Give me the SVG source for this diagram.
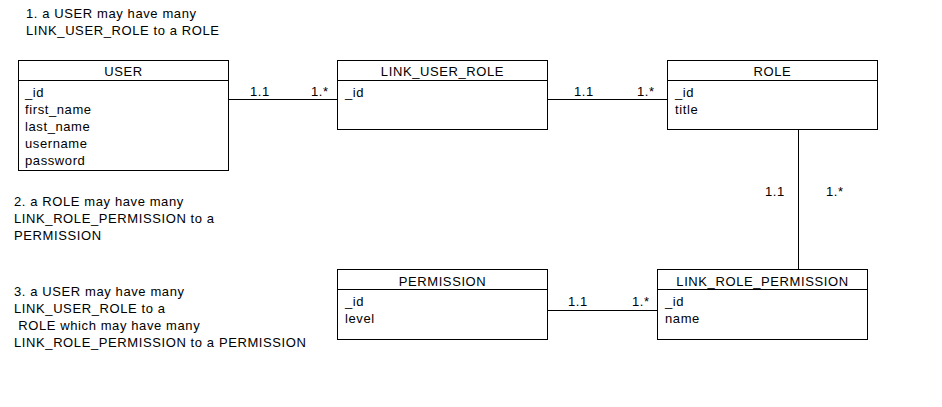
<svg xmlns="http://www.w3.org/2000/svg" width="942" height="407" viewBox="0 0 942 407">
<style>
text{font-family:"Liberation Sans",Arial,sans-serif;font-size:13px;letter-spacing:0.6px;fill:#000}
.t{text-anchor:middle}
.box{fill:#fff;stroke:#000;stroke-width:1}
.div{stroke:#000;stroke-width:1}
.conn{stroke:#000;stroke-width:1;fill:none}
</style>
<rect width="942" height="407" fill="#fff"/>
<g id="notes">
<text x="26" y="18">1. a USER may have many</text>
<text x="26" y="35">LINK_USER_ROLE to a ROLE</text>
<text x="14" y="206">2. a ROLE may have many</text>
<text x="14" y="223">LINK_ROLE_PERMISSION to a</text>
<text x="14" y="240">PERMISSION</text>
<text x="14" y="296">3. a USER may have many</text>
<text x="14" y="313">LINK_USER_ROLE to a</text>
<text x="14" y="330" xml:space="preserve"> ROLE which may have many</text>
<text x="14" y="347">LINK_ROLE_PERMISSION to a PERMISSION</text>
</g>
<g id="connectors">
<line class="conn" x1="228.5" y1="99.5" x2="337.5" y2="99.5"/>
<line class="conn" x1="547.5" y1="99.5" x2="667.5" y2="99.5"/>
<line class="conn" x1="798.5" y1="129.5" x2="798.5" y2="269.5"/>
<line class="conn" x1="547.5" y1="310.5" x2="657.5" y2="310.5"/>
<text x="250" y="96">1.1</text>
<text x="311" y="96">1.*</text>
<text x="574" y="96">1.1</text>
<text x="637" y="96">1.*</text>
<text x="765" y="196">1.1</text>
<text x="826" y="196">1.*</text>
<text x="568" y="306">1.1</text>
<text x="632" y="306">1.*</text>
</g>
<g id="user">
<rect class="box" x="18.5" y="60.5" width="210" height="110"/>
<line class="div" x1="18.5" y1="80.5" x2="228.5" y2="80.5"/>
<text class="t" x="123.5" y="76">USER</text>
<text x="25" y="97">_id</text>
<text x="25" y="114">first_name</text>
<text x="25" y="131">last_name</text>
<text x="25" y="148">username</text>
<text x="25" y="165">password</text>
</g>
<g id="link_user_role">
<rect class="box" x="337.5" y="60.5" width="210" height="69"/>
<line class="div" x1="337.5" y1="80.5" x2="547.5" y2="80.5"/>
<text class="t" x="442.5" y="76">LINK_USER_ROLE</text>
<text x="345" y="97">_id</text>
</g>
<g id="role">
<rect class="box" x="667.5" y="60.5" width="210" height="69"/>
<line class="div" x1="667.5" y1="80.5" x2="877.5" y2="80.5"/>
<text class="t" x="772.5" y="76">ROLE</text>
<text x="675" y="97">_id</text>
<text x="675" y="114">title</text>
</g>
<g id="permission">
<rect class="box" x="337.5" y="269.5" width="210" height="70"/>
<line class="div" x1="337.5" y1="289.5" x2="547.5" y2="289.5"/>
<text class="t" x="442.5" y="286">PERMISSION</text>
<text x="345" y="306">_id</text>
<text x="345" y="323">level</text>
</g>
<g id="link_role_permission">
<rect class="box" x="657.5" y="269.5" width="210" height="70"/>
<line class="div" x1="657.5" y1="289.5" x2="867.5" y2="289.5"/>
<text class="t" x="762.5" y="286">LINK_ROLE_PERMISSION</text>
<text x="665" y="306">_id</text>
<text x="665" y="323">name</text>
</g>
</svg>
